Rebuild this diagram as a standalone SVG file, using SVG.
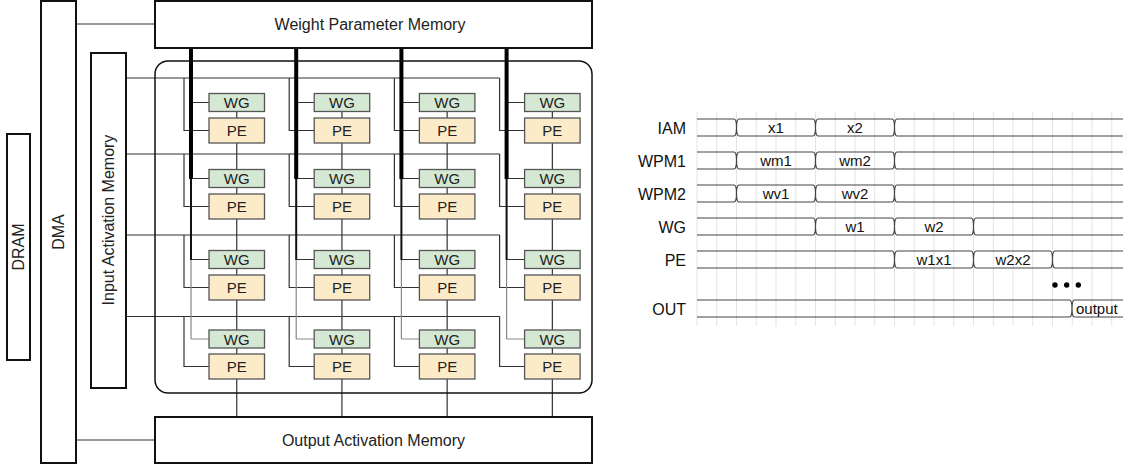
<svg xmlns="http://www.w3.org/2000/svg" width="1123" height="468" viewBox="0 0 1123 468">
<style>
.box{fill:#fff;stroke:#111;stroke-width:2}
.frame{fill:none;stroke:#111;stroke-width:1.5}
.wg{fill:#d5e8d4;stroke:#555;stroke-width:1.3}
.pe{fill:#fcebc8;stroke:#555;stroke-width:1.3}
.t{font-family:"Liberation Sans",Arial,sans-serif;fill:#222;text-anchor:middle}
.big{font-size:16px}
.cell{font-size:15px}
.conn{fill:none;stroke:#333;stroke-width:1.2}
.feed{fill:none;stroke:#333;stroke-width:1.2}
.feedg{fill:none;stroke:#888;stroke-width:1.2}
.bus4{stroke:#000;stroke-width:4}
.bus2{stroke:#111;stroke-width:2}
.bus1{stroke:#888;stroke-width:1.2}
.grid{stroke:#e3e3e3;stroke-width:1}
.sig{fill:none;stroke:#444;stroke-width:1.2}
.lbl{font-family:"Liberation Sans",Arial,sans-serif;font-size:16px;fill:#111;text-anchor:end}
.val{font-family:"Liberation Sans",Arial,sans-serif;font-size:15px;fill:#111;text-anchor:middle}
</style>

<!-- Connectors -->
<g id="connectors">
  <line class="conn" x1="76" y1="24" x2="155" y2="24"/>
  <line class="conn" x1="76" y1="440" x2="155" y2="440"/>
  <line class="conn" x1="126" y1="78" x2="499.6" y2="78"/>
  <line class="conn" x1="126" y1="154" x2="499.6" y2="154"/>
  <line class="conn" x1="126" y1="235" x2="499.6" y2="235"/>
  <line class="conn" x1="126" y1="316.5" x2="499.6" y2="316.5"/>
  <path class="conn" d="M184,78 V130.5 H209 M289.2,78 V130.5 H314.2 M394.4,78 V130.5 H419.4 M499.6,78 V130.5 H524.6"/>
  <path class="conn" d="M184,154 V206.5 H209 M289.2,154 V206.5 H314.2 M394.4,154 V206.5 H419.4 M499.6,154 V206.5 H524.6"/>
  <path class="conn" d="M184,235 V287.5 H209 M289.2,235 V287.5 H314.2 M394.4,235 V287.5 H419.4 M499.6,235 V287.5 H524.6"/>
  <path class="conn" d="M184,316.5 V366.5 H209 M289.2,316.5 V366.5 H314.2 M394.4,316.5 V366.5 H419.4 M499.6,316.5 V366.5 H524.6"/>
  <path class="feed" d="M191,102.5 H209 M296.2,102.5 H314.2 M401.4,102.5 H419.4 M506.6,102.5 H524.6"/>
  <path class="feed" d="M191,178.5 H209 M296.2,178.5 H314.2 M401.4,178.5 H419.4 M506.6,178.5 H524.6"/>
  <path class="feed" d="M191,259.5 H209 M296.2,259.5 H314.2 M401.4,259.5 H419.4 M506.6,259.5 H524.6"/>
  <path class="feedg" d="M191,339 H209 M296.2,339 H314.2 M401.4,339 H419.4 M506.6,339 H524.6"/>
  <path class="bus1" d="M191,259.5 V339 M296.2,259.5 V339 M401.4,259.5 V339 M506.6,259.5 V339"/>
  <path class="bus2" d="M191,178.5 V260 M296.2,178.5 V260 M401.4,178.5 V260 M506.6,178.5 V260"/>
  <path class="bus4" d="M191,48 V179 M296.2,48 V179 M401.4,48 V179 M506.6,48 V179"/>
  <path class="conn" d="M236.75,111.5 V118 M236.75,143 V169.5 M236.75,187.5 V194 M236.75,219 V250.5 M236.75,268.5 V275 M236.75,300 V330 M236.75,348 V354 M236.75,379 V417"/>
  <path class="conn" d="M341.95,111.5 V118 M341.95,143 V169.5 M341.95,187.5 V194 M341.95,219 V250.5 M341.95,268.5 V275 M341.95,300 V330 M341.95,348 V354 M341.95,379 V417"/>
  <path class="conn" d="M447.15,111.5 V118 M447.15,143 V169.5 M447.15,187.5 V194 M447.15,219 V250.5 M447.15,268.5 V275 M447.15,300 V330 M447.15,348 V354 M447.15,379 V417"/>
  <path class="conn" d="M552.35,111.5 V118 M552.35,143 V169.5 M552.35,187.5 V194 M552.35,219 V250.5 M552.35,268.5 V275 M552.35,300 V330 M552.35,348 V354 M552.35,379 V417"/>
</g>

<rect id="array-frame" class="frame" x="155" y="61" width="437" height="332" rx="13"/>

<g id="dram"><rect class="box" x="7" y="134" width="23" height="226"/><text class="t big" transform="translate(24,247) rotate(-90)">DRAM</text></g>
<g id="dma"><rect class="box" x="41" y="1" width="35" height="462"/><text class="t big" transform="translate(64,232) rotate(-90)">DMA</text></g>
<g id="iam"><rect class="box" x="91" y="53" width="35" height="335"/><text class="t big" transform="translate(114,220) rotate(-90)">Input Activation Memory</text></g>
<g id="wpm"><rect class="box" x="155" y="1" width="437" height="47"/><text class="t big" x="370" y="30">Weight Parameter Memory</text></g>
<g id="oam"><rect class="box" x="155" y="417" width="437" height="46"/><text class="t big" x="373.5" y="446">Output Activation Memory</text></g>

<g id="wg-r1c1"><rect class="wg" x="209" y="93.5" width="55.5" height="18"/><text class="t cell" x="236.75" y="108">WG</text></g>
<g id="wg-r1c2"><rect class="wg" x="314.2" y="93.5" width="55.5" height="18"/><text class="t cell" x="341.95" y="108">WG</text></g>
<g id="wg-r1c3"><rect class="wg" x="419.4" y="93.5" width="55.5" height="18"/><text class="t cell" x="447.15" y="108">WG</text></g>
<g id="wg-r1c4"><rect class="wg" x="524.6" y="93.5" width="55.5" height="18"/><text class="t cell" x="552.35" y="108">WG</text></g>
<g id="pe-r1c1"><rect class="pe" x="209" y="118" width="55.5" height="25"/><text class="t cell" x="236.75" y="136">PE</text></g>
<g id="pe-r1c2"><rect class="pe" x="314.2" y="118" width="55.5" height="25"/><text class="t cell" x="341.95" y="136">PE</text></g>
<g id="pe-r1c3"><rect class="pe" x="419.4" y="118" width="55.5" height="25"/><text class="t cell" x="447.15" y="136">PE</text></g>
<g id="pe-r1c4"><rect class="pe" x="524.6" y="118" width="55.5" height="25"/><text class="t cell" x="552.35" y="136">PE</text></g>
<g id="wg-r2c1"><rect class="wg" x="209" y="169.5" width="55.5" height="18"/><text class="t cell" x="236.75" y="184">WG</text></g>
<g id="wg-r2c2"><rect class="wg" x="314.2" y="169.5" width="55.5" height="18"/><text class="t cell" x="341.95" y="184">WG</text></g>
<g id="wg-r2c3"><rect class="wg" x="419.4" y="169.5" width="55.5" height="18"/><text class="t cell" x="447.15" y="184">WG</text></g>
<g id="wg-r2c4"><rect class="wg" x="524.6" y="169.5" width="55.5" height="18"/><text class="t cell" x="552.35" y="184">WG</text></g>
<g id="pe-r2c1"><rect class="pe" x="209" y="194" width="55.5" height="25"/><text class="t cell" x="236.75" y="212">PE</text></g>
<g id="pe-r2c2"><rect class="pe" x="314.2" y="194" width="55.5" height="25"/><text class="t cell" x="341.95" y="212">PE</text></g>
<g id="pe-r2c3"><rect class="pe" x="419.4" y="194" width="55.5" height="25"/><text class="t cell" x="447.15" y="212">PE</text></g>
<g id="pe-r2c4"><rect class="pe" x="524.6" y="194" width="55.5" height="25"/><text class="t cell" x="552.35" y="212">PE</text></g>
<g id="wg-r3c1"><rect class="wg" x="209" y="250.5" width="55.5" height="18"/><text class="t cell" x="236.75" y="265">WG</text></g>
<g id="wg-r3c2"><rect class="wg" x="314.2" y="250.5" width="55.5" height="18"/><text class="t cell" x="341.95" y="265">WG</text></g>
<g id="wg-r3c3"><rect class="wg" x="419.4" y="250.5" width="55.5" height="18"/><text class="t cell" x="447.15" y="265">WG</text></g>
<g id="wg-r3c4"><rect class="wg" x="524.6" y="250.5" width="55.5" height="18"/><text class="t cell" x="552.35" y="265">WG</text></g>
<g id="pe-r3c1"><rect class="pe" x="209" y="275" width="55.5" height="25"/><text class="t cell" x="236.75" y="293">PE</text></g>
<g id="pe-r3c2"><rect class="pe" x="314.2" y="275" width="55.5" height="25"/><text class="t cell" x="341.95" y="293">PE</text></g>
<g id="pe-r3c3"><rect class="pe" x="419.4" y="275" width="55.5" height="25"/><text class="t cell" x="447.15" y="293">PE</text></g>
<g id="pe-r3c4"><rect class="pe" x="524.6" y="275" width="55.5" height="25"/><text class="t cell" x="552.35" y="293">PE</text></g>
<g id="wg-r4c1"><rect class="wg" x="209" y="330" width="55.5" height="18"/><text class="t cell" x="236.75" y="344.5">WG</text></g>
<g id="wg-r4c2"><rect class="wg" x="314.2" y="330" width="55.5" height="18"/><text class="t cell" x="341.95" y="344.5">WG</text></g>
<g id="wg-r4c3"><rect class="wg" x="419.4" y="330" width="55.5" height="18"/><text class="t cell" x="447.15" y="344.5">WG</text></g>
<g id="wg-r4c4"><rect class="wg" x="524.6" y="330" width="55.5" height="18"/><text class="t cell" x="552.35" y="344.5">WG</text></g>
<g id="pe-r4c1"><rect class="pe" x="209" y="354" width="55.5" height="25"/><text class="t cell" x="236.75" y="372">PE</text></g>
<g id="pe-r4c2"><rect class="pe" x="314.2" y="354" width="55.5" height="25"/><text class="t cell" x="341.95" y="372">PE</text></g>
<g id="pe-r4c3"><rect class="pe" x="419.4" y="354" width="55.5" height="25"/><text class="t cell" x="447.15" y="372">PE</text></g>
<g id="pe-r4c4"><rect class="pe" x="524.6" y="354" width="55.5" height="25"/><text class="t cell" x="552.35" y="372">PE</text></g>

<g id="timing-grid">
  <path class="grid" d="M697,112V326 M716.75,112V326 M736.5,112V326 M756.25,112V326 M776,112V326 M795.75,112V326 M815.5,112V326 M835.25,112V326 M855,112V326 M874.75,112V326 M894.5,112V326 M914.25,112V326 M934,112V326 M953.75,112V326 M973.5,112V326 M993.25,112V326 M1013,112V326 M1032.75,112V326 M1052.5,112V326 M1072.25,112V326 M1092,112V326 M1111.75,112V326"/>
</g>
<g id="timing-labels">
  <text class="lbl" x="686" y="133.5">IAM</text>
  <text class="lbl" x="686" y="166.5">WPM1</text>
  <text class="lbl" x="686" y="199.5">WPM2</text>
  <text class="lbl" x="686" y="232.5">WG</text>
  <text class="lbl" x="686" y="265.5">PE</text>
  <text class="lbl" x="686" y="314.5">OUT</text>
</g>
<g id="sig-iam" transform="translate(0,119)">
  <path class="sig" d="M697,0 H734 Q736.5,0 736.5,8.5 Q736.5,17 734,17 H697 M739,0 H813 Q815.5,0 815.5,8.5 Q815.5,17 813,17 H739 Q736.5,17 736.5,8.5 Q736.5,0 739,0 M818,0 H892 Q894.5,0 894.5,8.5 Q894.5,17 892,17 H818 Q815.5,17 815.5,8.5 Q815.5,0 818,0 M1130,0 H897 Q894.5,0 894.5,8.5 Q894.5,17 897,17 H1130"/>
  <text class="val" x="776" y="14">x1</text><text class="val" x="855" y="14">x2</text>
</g>
<g id="sig-wpm1" transform="translate(0,152)">
  <path class="sig" d="M697,0 H734 Q736.5,0 736.5,8.5 Q736.5,17 734,17 H697 M739,0 H813 Q815.5,0 815.5,8.5 Q815.5,17 813,17 H739 Q736.5,17 736.5,8.5 Q736.5,0 739,0 M818,0 H892 Q894.5,0 894.5,8.5 Q894.5,17 892,17 H818 Q815.5,17 815.5,8.5 Q815.5,0 818,0 M1130,0 H897 Q894.5,0 894.5,8.5 Q894.5,17 897,17 H1130"/>
  <text class="val" x="776" y="14">wm1</text><text class="val" x="855" y="14">wm2</text>
</g>
<g id="sig-wpm2" transform="translate(0,185)">
  <path class="sig" d="M697,0 H734 Q736.5,0 736.5,8.5 Q736.5,17 734,17 H697 M739,0 H813 Q815.5,0 815.5,8.5 Q815.5,17 813,17 H739 Q736.5,17 736.5,8.5 Q736.5,0 739,0 M818,0 H892 Q894.5,0 894.5,8.5 Q894.5,17 892,17 H818 Q815.5,17 815.5,8.5 Q815.5,0 818,0 M1130,0 H897 Q894.5,0 894.5,8.5 Q894.5,17 897,17 H1130"/>
  <text class="val" x="776" y="14">wv1</text><text class="val" x="855" y="14">wv2</text>
</g>
<g id="sig-wg" transform="translate(0,218)">
  <path class="sig" d="M697,0 H813 Q815.5,0 815.5,8.5 Q815.5,17 813,17 H697 M818,0 H892 Q894.5,0 894.5,8.5 Q894.5,17 892,17 H818 Q815.5,17 815.5,8.5 Q815.5,0 818,0 M897,0 H971 Q973.5,0 973.5,8.5 Q973.5,17 971,17 H897 Q894.5,17 894.5,8.5 Q894.5,0 897,0 M1130,0 H976 Q973.5,0 973.5,8.5 Q973.5,17 976,17 H1130"/>
  <text class="val" x="855" y="14">w1</text><text class="val" x="934" y="14">w2</text>
</g>
<g id="sig-pe" transform="translate(0,251)">
  <path class="sig" d="M697,0 H892 Q894.5,0 894.5,8.5 Q894.5,17 892,17 H697 M897,0 H971 Q973.5,0 973.5,8.5 Q973.5,17 971,17 H897 Q894.5,17 894.5,8.5 Q894.5,0 897,0 M976,0 H1050 Q1052.5,0 1052.5,8.5 Q1052.5,17 1050,17 H976 Q973.5,17 973.5,8.5 Q973.5,0 976,0 M1130,0 H1055 Q1052.5,0 1052.5,8.5 Q1052.5,17 1055,17 H1130"/>
  <text class="val" x="934" y="14">w1x1</text><text class="val" x="1013" y="14">w2x2</text>
</g>
<g id="sig-out" transform="translate(0,300)">
  <path class="sig" d="M697,0 H1069.5 Q1072,0 1072,8.5 Q1072,17 1069.5,17 H697 M1130,0 H1074.5 Q1072,0 1072,8.5 Q1072,17 1074.5,17 H1130"/>
  <text class="val" x="1076" y="14" style="text-anchor:start">output</text>
</g>
<g id="ellipsis" fill="#000">
  <circle cx="1055" cy="285" r="2.7"/><circle cx="1066.7" cy="285" r="2.7"/><circle cx="1078.3" cy="285" r="2.7"/>
</g>
</svg>
